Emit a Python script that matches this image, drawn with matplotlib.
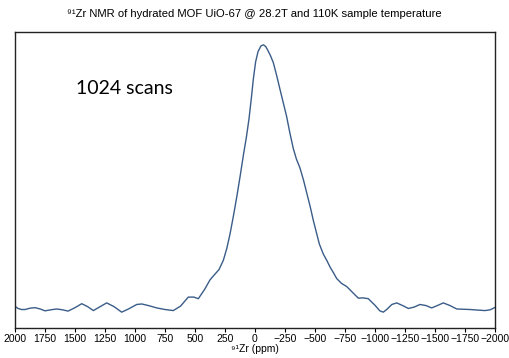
import matplotlib
matplotlib.use("Agg")
import matplotlib.pyplot as plt
import numpy as np

# chemical shift (ppm) and normalized intensity
ppm = [2000, 1975, 1945, 1917, 1875, 1833, 1790, 1750, 1700, 1653, 1605, 1558,
       1500, 1444, 1395, 1347, 1290, 1236, 1175, 1111, 1050, 986, 944, 880,
       819, 750, 681, 620, 556, 510, 472, 420, 375, 347, 300, 264, 235, 208,
       181, 153, 125, 97, 72, 50, 30, 14, -5, -25, -50, -71, -90, -108, -130,
       -153, -180, -208, -236, -264, -290, -319, -345, -375, -405, -431, -460,
       -486, -536, -569, -600, -625, -655, -681, -720, -764, -810, -861, -900,
       -944, -1000, -1040, -1069, -1100, -1140, -1181, -1230, -1278, -1325,
       -1375, -1425, -1472, -1520, -1569, -1625, -1681, -1740, -1792, -1850,
       -1917, -1960, -2000]
intensity = [0.011, 0.003, -0.001, -0.001, 0.004, 0.006, 0.001, -0.006, -0.002,
             0.001, -0.002, -0.007, 0.006, 0.021, 0.010, -0.005, 0.010, 0.024,
             0.010, -0.011, 0.002, 0.018, 0.020, 0.013, 0.005, -0.001, -0.005,
             0.012, 0.046, 0.046, 0.040, 0.075, 0.111, 0.126, 0.150, 0.185,
             0.230, 0.285, 0.350, 0.422, 0.500, 0.582, 0.650, 0.720, 0.800,
             0.870, 0.935, 0.974, 0.996, 1.000, 0.993, 0.978, 0.958, 0.932,
             0.885, 0.832, 0.780, 0.728, 0.668, 0.608, 0.568, 0.534, 0.487,
             0.440, 0.388, 0.336, 0.247, 0.209, 0.183, 0.160, 0.137, 0.116,
             0.098, 0.086, 0.065, 0.042, 0.043, 0.040, 0.015, -0.006, -0.011,
             0.000, 0.018, 0.024, 0.014, 0.003, 0.008, 0.018, 0.014, 0.005,
             0.014, 0.024, 0.014, 0.001, 0.000, -0.001, -0.003, -0.005, -0.002,
             0.007]

xticks = [2000, 1750, 1500, 1250, 1000, 750, 500, 250, 0, -250, -500, -750,
          -1000, -1250, -1500, -1750, -2000]
xticklabels = [str(t).replace("-", "\u2212") for t in xticks]

plt.rcParams['font.family'] = ['Liberation Sans', 'DejaVu Sans']

fig = plt.figure(figsize=(5.09, 3.58), dpi=100)
ax = fig.add_axes([15/509, 30/358, 480/509, 296.3/358])
ax.plot(ppm, intensity, color="#3a5c88", linewidth=1.0)
ax.set_xlim(2000, -2000)
ax.set_ylim(-0.0709, 1.0496)
ax.set_xticks(xticks)
ax.set_xticklabels(xticklabels, fontsize=7.5)
ax.set_yticks([])
ax.tick_params(axis='x', length=3, width=0.8, pad=1.5)
for s in ax.spines.values():
    s.set_linewidth(1.0)
    s.set_color("#222222")
ax.set_xlabel("\u2079\u00b9Zr (ppm)", fontsize=7.5, labelpad=0)
fig.text(0.5, 1 - 14/358, "\u2079\u00b9Zr NMR of hydrated MOF UiO-67 @ 28.2T and 110K sample temperature",
         ha="center", va="center", fontsize=8.1)
ax.text(76, 88, "1024 scans", transform=None, fontsize=14, family=['Lato', 'DejaVu Sans'])
t = ax.texts[-1]
t.set_transform(ax.transData)
t.set_position((ax.transData.inverted().transform((76, 358 - 88))))
t.set_va("center")
t.set_ha("left")
fig.savefig("out.png", dpi=100)
